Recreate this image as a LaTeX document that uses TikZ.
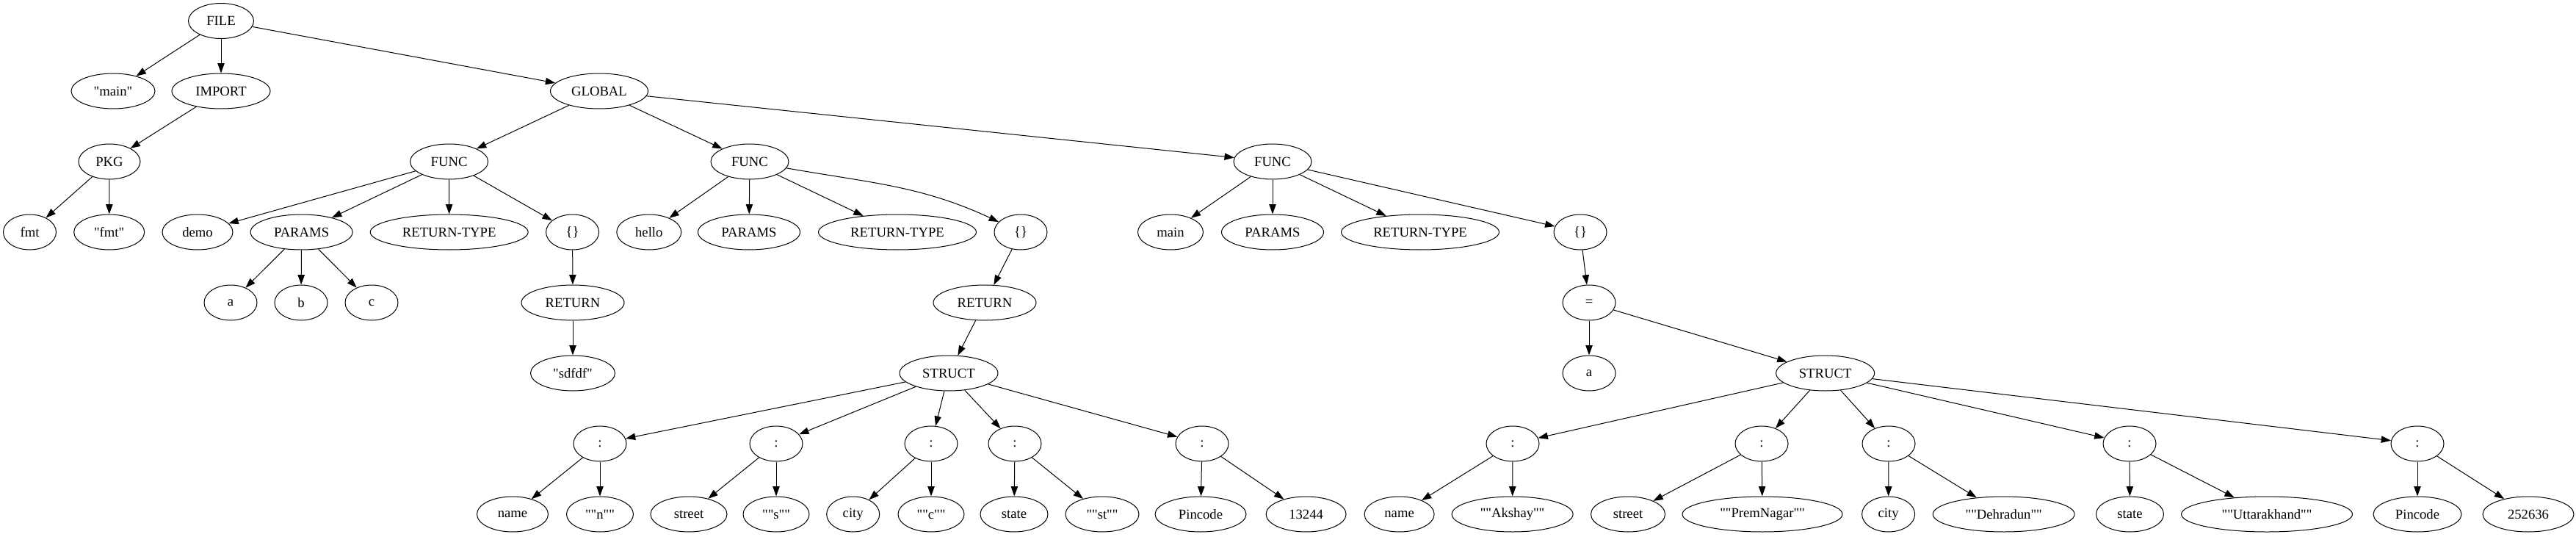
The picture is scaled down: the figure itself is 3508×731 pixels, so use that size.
\documentclass[tikz,border=0pt]{standalone}
\usepackage{fontspec}
\setmainfont{Liberation Serif}[Ligatures=TeXOff]
\usetikzlibrary{shapes.geometric,arrows.meta}
\begin{document}
\begin{tikzpicture}[x=0.75pt,y=-0.75pt,
  nd/.style={ellipse,draw,line width=0.75pt,inner sep=0pt,minimum height=36pt,minimum width=54pt,font=\fontsize{14}{16}\selectfont},
  w/.style={minimum width=#1*0.75pt},
  edge/.style={draw,line width=0.75pt,-{Triangle[length=10pt,width=7pt]}}]
\useasboundingbox (0,0) rectangle (3508,731);
% level 0
\node[nd,w=89] (file) at (301,28.5) {FILE};
% level 1
\node[nd,w=114] (qmain) at (154,124) {"main"};
\node[nd,w=134] (import) at (301,124) {IMPORT};
\node[nd,w=133] (global) at (816,124) {GLOBAL};
% level 2
\node[nd,w=84] (pkg) at (149,220) {PKG};
\node[nd,w=106] (func1) at (611.6,220) {FUNC};
\node[nd,w=106] (func2) at (1021,220) {FUNC};
\node[nd,w=106] (func3) at (1733,220) {FUNC};
% level 3
\node[nd,w=72] (fmt) at (40.5,316) {fmt};
\node[nd,w=96] (qfmt) at (148.7,316) {"fmt"};
\node[nd,w=96] (demo) at (269,316) {demo};
\node[nd,w=139] (params1) at (410.6,316) {PARAMS};
\node[nd,w=215] (rt1) at (611.7,316) {RETURN-TYPE};
\node[nd,w=72] (blk1) at (779.6,316) {\{\}};
\node[nd,w=88] (hello) at (883.8,316) {hello};
\node[nd,w=139] (params2) at (1020,316) {PARAMS};
\node[nd,w=215] (rt2) at (1222,316) {RETURN-TYPE};
\node[nd,w=72] (blk2) at (1390,316) {\{\}};
\node[nd,w=89] (mainid) at (1594,316) {main};
\node[nd,w=139] (params3) at (1733,316) {PARAMS};
\node[nd,w=215] (rt3) at (1934,316) {RETURN-TYPE};
\node[nd,w=72] (blk3) at (2152,316) {\{\}};
% level 4
\node[nd,w=72] (pa) at (314,412) {a};
\node[nd,w=72] (pb) at (410,412) {b};
\node[nd,w=72] (pc) at (506,412) {c};
\node[nd,w=140] (ret1) at (780,412) {RETURN};
\node[nd,w=140] (ret2) at (1341,412) {RETURN};
\node[nd,w=72] (assign) at (2164,412) {=};
% level 5
\node[nd,w=115] (sdfdf) at (780,508) {"sdfdf"};
\node[nd,w=134] (struct1) at (1292,508) {STRUCT};
\node[nd,w=72] (avar) at (2164,508) {a};
\node[nd,w=134] (struct2) at (2485.6,508) {STRUCT};
% level 6
\foreach \n/\x in {c1/817,c2/1057,c3/1268,c4/1382,c5/1637,d1/2060,d2/2399,d3/2572,d4/2900,d5/3292}
  \node[nd,w=72] (\n) at (\x,604) {:};
% level 7
\node[nd,w=97] (k1) at (698,700) {name};
\node[nd,w=91] (v1) at (817,700) {""n""};
\node[nd,w=104] (k2) at (938,700) {street};
\node[nd,w=90] (v2) at (1057,700) {""s""};
\node[nd,w=72] (k3) at (1161.7,700) {city};
\node[nd,w=90] (v3) at (1268,700) {""c""};
\node[nd,w=92] (k4) at (1381,700) {state};
\node[nd,w=100] (v4) at (1501,700) {""st""};
\node[nd,w=124] (k5) at (1635,700) {Pincode};
\node[nd,w=109] (v5) at (1778.6,700) {13244};
\node[nd,w=95] (m1) at (1905.6,700) {name};
\node[nd,w=165] (n1) at (2059.6,700) {""Akshay""};
\node[nd,w=101] (m2) at (2217,700) {street};
\node[nd,w=218] (n2) at (2400,700) {""PremNagar""};
\node[nd,w=72] (m3) at (2571.6,700) {city};
\node[nd,w=193] (n3) at (2728.7,700) {""Dehradun""};
\node[nd,w=92] (m4) at (2900.5,700) {state};
\node[nd,w=233] (n4) at (3087,700) {""Uttarakhand""};
\node[nd,w=120] (m5) at (3292,700) {Pincode};
\node[nd,w=124] (n5) at (3443,700) {252636};
% edges
\foreach \a/\b in {file/qmain,file/import,file/global,import/pkg,pkg/fmt,pkg/qfmt,
  global/func1,global/func2,global/func3,
  func1/demo,func1/params1,func1/rt1,func1/blk1,params1/pa,params1/pb,params1/pc,
  blk1/ret1,ret1/sdfdf,
  func2/hello,func2/params2,func2/rt2,blk2/ret2,ret2/struct1,
  func3/mainid,func3/params3,func3/rt3,func3/blk3,blk3/assign,assign/avar,assign/struct2,
  struct1/c1,struct1/c2,struct1/c3,struct1/c4,struct1/c5,
  c1/k1,c1/v1,c2/k2,c2/v2,c3/k3,c3/v3,c4/k4,c4/v4,c5/k5,c5/v5,
  struct2/d1,struct2/d2,struct2/d3,struct2/d4,struct2/d5,
  d1/m1,d1/n1,d2/m2,d2/n2,d3/m3,d3/n3,d4/m4,d4/n4,d5/m5,d5/n5}
  \draw[edge] (\a) -- (\b);
\draw[edge] (func2) to[out=-10,in=155] (blk2);
\end{tikzpicture}
\end{document}
